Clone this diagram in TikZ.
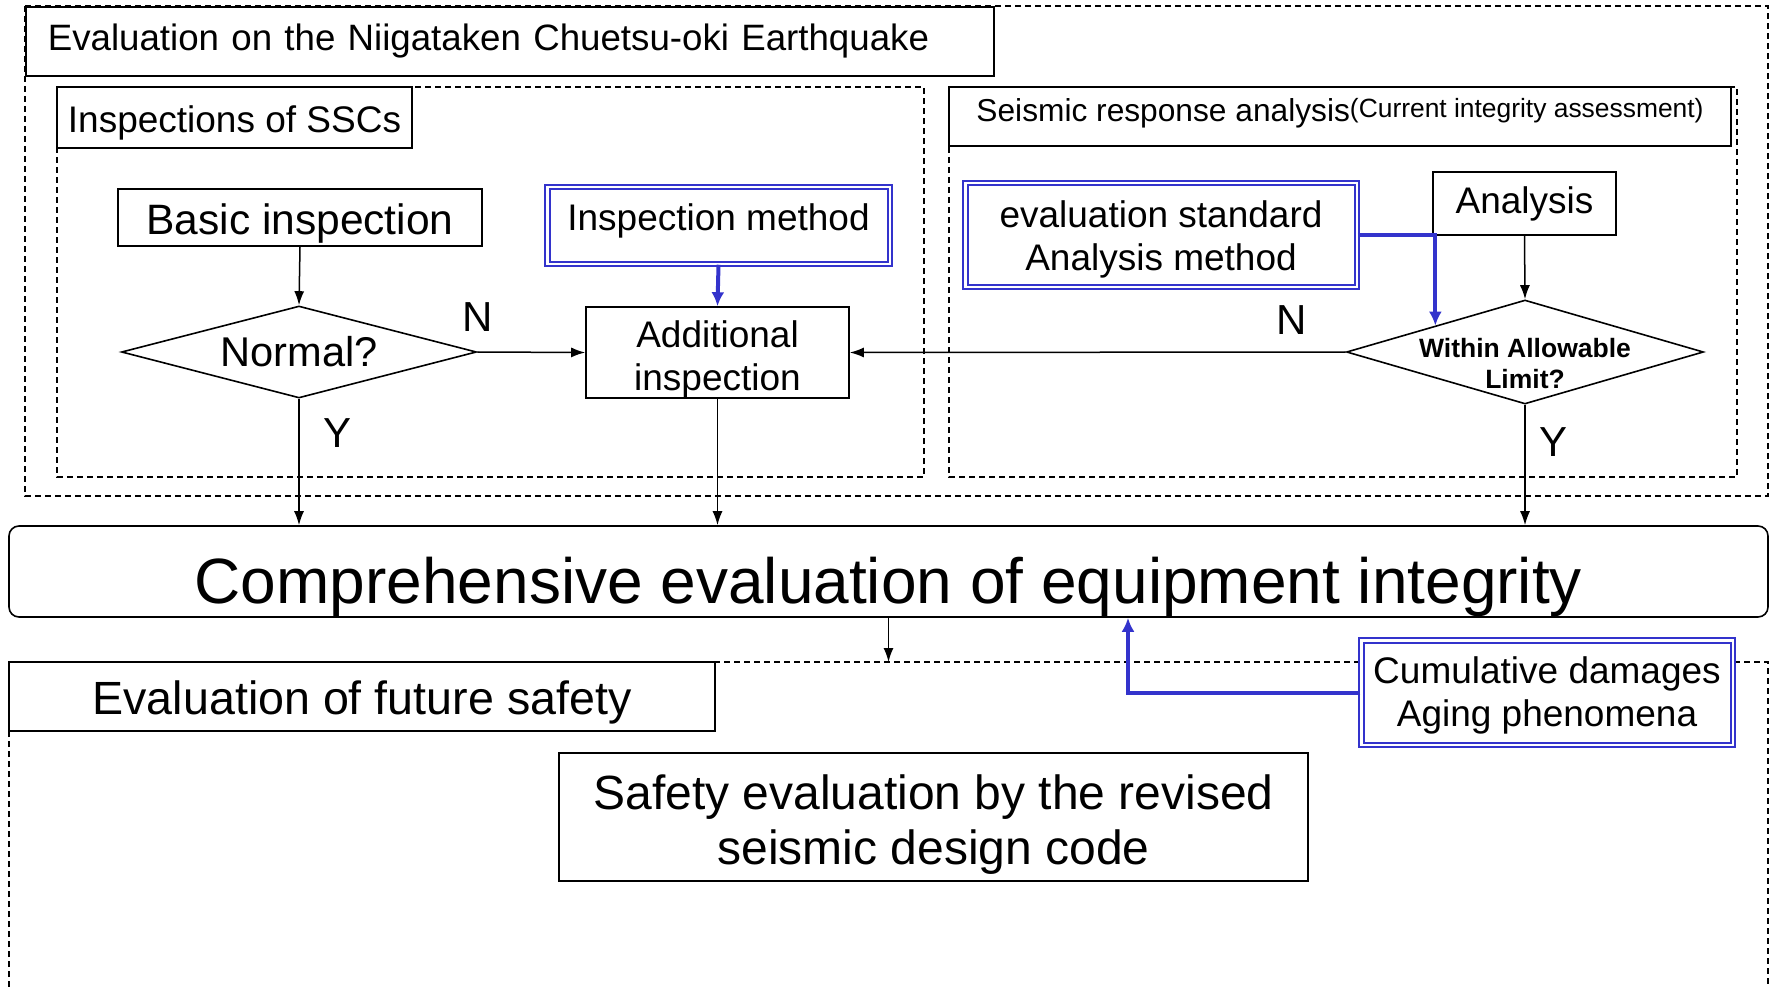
\documentclass[tikz,border=0pt]{standalone}
\usepackage{fontspec}
\setmainfont{Liberation Sans}
\usetikzlibrary{arrows.meta,positioning,calc,shapes.geometric}
\definecolor{linkblue}{RGB}{51,51,204}
\newcommand{\fsz}[2]{\fontsize{#1}{#2}\selectfont}

\begin{document}
\begin{tikzpicture}[x=1pt,y=-1pt,
  box/.style={draw,fill=white,line width=1.6pt,inner sep=0pt,align=center,font=\fsz{37}{43}},
  inbox/.style={box,draw=linkblue,double=white,double distance=2.5pt,line width=2pt},
  decision/.style={draw,fill=white,diamond,line width=1.6pt,inner sep=0pt},
  frame/.style={line width=1.5pt,dash pattern=on 6pt off 4pt},
  flow/.style={line width=1.5pt,-{Latex[length=14pt,width=10pt]}},
  feed/.style={draw=linkblue,line width=4pt,-{Latex[length=14pt,width=13pt]}},
  yn/.style={inner sep=0pt,font=\fsz{42}{42}}]

\useasboundingbox (0,0) rectangle (1774,987);

% dashed group frames
\draw[frame] (25,6) rectangle (1768,496);
\draw[frame] (57,87) rectangle (924,477);
\draw[frame] (949,87) rectangle (1737,477);
\draw[frame] (9,987) -- (9,662) -- (1768,662) -- (1768,987);
\coordinate (futtop) at (888.5,662);

% group titles
\node[box,anchor=north west,minimum width=968pt,minimum height=69pt,font=\fsz{36.7}{43},
      text width=924pt,inner xsep=22pt,align=left] (quake) at (25,6)
      {Evaluation on the Niigataken Chuetsu-oki Earthquake};
\node[box,minimum width=355pt,minimum height=61pt,text height=37pt] (ssc) at (234.5,117.5) {Inspections of SSCs};
\node[box,minimum width=782pt,minimum height=59pt,font=\fsz{31.7}{36},text height=23pt,text depth=13pt] (seismic) at (1340,116.5)
  {Seismic response analysis\raisebox{4pt}{\fsz{26.4}{30}(Current integrity assessment)}};
\node[box,minimum width=706pt,minimum height=69pt,font=\fsz{46.6}{52},text height=46pt] (future) at (362,696.5) {Evaluation of future safety};

% inspection side
\node[box,minimum width=364pt,minimum height=57pt,font=\fsz{42.5}{48},text height=42pt] (basic) at (300,217.5) {Basic inspection};
\node[decision,aspect=3.86,minimum width=355pt,minimum height=92pt,font=\fsz{41.6}{46}] (normal) at (299,352) {Normal?};
\node[inbox,minimum width=342.5pt,minimum height=76.5pt,text height=27pt,text depth=17pt] (method) at (718.5,225.5) {Inspection method};
\node[box,minimum width=263pt,minimum height=91pt,text height=83pt,text depth=8pt] (add) at (717.5,352.5) {Additional\\inspection};

% analysis side
\node[inbox,minimum width=391.5pt,minimum height=103.5pt,font=\fsz{37}{43},text height=78pt,text depth=8pt] (evalstd) at (1161,235) {evaluation standard\\Analysis method};
\node[box,minimum width=183pt,minimum height=63pt] (analysis) at (1524.5,203.5) {Analysis};
\node[decision,aspect=3.43,minimum width=357pt,minimum height=104pt,
      label={[font=\fsz{26.5}{31}\bfseries,align=center,inner sep=0pt,yshift=-12pt]center:{Within Allowable\\Limit?}}] (within) at (1525,352) {};

% overall evaluation
\node[box,rounded corners=10pt,minimum width=1759pt,minimum height=91pt,font=\fsz{64}{70},
      text height=76pt,text depth=13pt] (comp) at (888.5,571.5) {Comprehensive evaluation of equipment integrity};
\node[inbox,minimum width=371.5pt,minimum height=104.5pt,font=\fsz{37}{43},text height=76pt,text depth=8pt] (cum) at (1547,692.5) {Cumulative damages\\Aging phenomena};
\node[box,minimum width=749pt,minimum height=128pt,font=\fsz{48}{55},text height=105pt,text depth=10pt] (safety) at (933.5,817) {Safety evaluation by the revised\\seismic design code};

% connectors
\draw[flow] (basic.south) -- (normal.north);
\draw[flow] (normal.east) -- node[yn,pos=0,above=20pt] (nl) {N} (add.west);
\draw[flow] (within.west) -- node[yn,pos=0,above left=17pt and 38pt] (nr) {N} (add.east);
\draw[flow] (analysis.south) -- (within.north);
\draw[flow] (normal.south) -- node[yn,pos=0,below right=19pt and 24pt] (yl) {Y} (normal.south |- comp.north);
\draw[flow] (add.south) -- (add.south |- comp.north);
\draw[flow] (within.south) -- node[yn,pos=0,below right=22pt and 14pt] (yr) {Y} (within.south |- comp.north);
\draw[flow] (comp.south) -- (futtop);
\draw[feed] (method.south) -- (add.north);
\draw[feed] (evalstd.east) -| (within.north west);
\draw[feed] (cum.west) -| ([xshift=239.5pt]comp.south);
\end{tikzpicture}
\end{document}
